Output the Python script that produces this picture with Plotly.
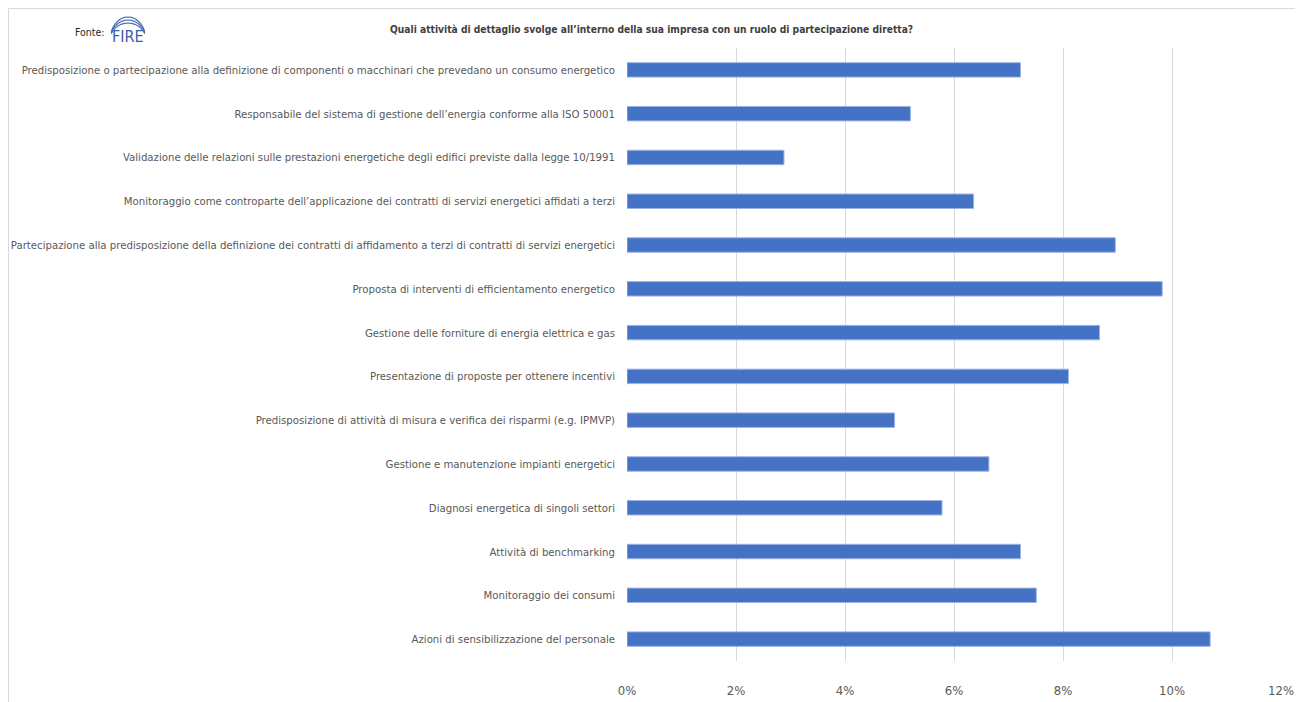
import math
import plotly.graph_objects as go

categories = [
    "Predisposizione o partecipazione alla definizione di componenti o macchinari che prevedano un consumo energetico",
    "Responsabile del sistema di gestione dell’energia conforme alla ISO 50001",
    "Validazione delle relazioni sulle prestazioni energetiche degli edifici previste dalla legge 10/1991",
    "Monitoraggio come controparte dell’applicazione dei contratti di servizi energetici affidati a terzi",
    "Partecipazione alla predisposizione della definizione dei contratti di affidamento a terzi di contratti di servizi energetici",
    "Proposta di interventi di efficientamento energetico",
    "Gestione delle forniture di energia elettrica e gas",
    "Presentazione di proposte per ottenere incentivi",
    "Predisposizione di attività di misura e verifica dei risparmi (e.g. IPMVP)",
    "Gestione e manutenzione impianti energetici",
    "Diagnosi energetica di singoli settori",
    "Attività di benchmarking",
    "Monitoraggio dei consumi",
    "Azioni di sensibilizzazione del personale",
]
values = [0.0722, 0.0520, 0.0288, 0.0636, 0.0896, 0.0982, 0.0867, 0.0810,
          0.0491, 0.0664, 0.0578, 0.0722, 0.0751, 0.1070]
x_ticks = [0, 0.02, 0.04, 0.06, 0.08, 0.10, 0.12]
x_ticklabels = ["0%", "2%", "4%", "6%", "8%", "10%", "12%"]

title_text = "Quali attività di dettaglio svolge all’interno della sua impresa con un ruolo di partecipazione diretta?"

FONT = "DejaVu Sans Condensed, Liberation Sans Narrow, sans-serif"

OFF = 8  # page body margin
W, H = 1303 - OFF, 702 - OFF
# plot area in page pixels: x 627..1281, y 48..661
ML = 627 - OFF
MR = W - (1281 - OFF)
MT = 48 - OFF
MB = H - (661 - OFF)
PW, PH = W - ML - MR, H - MT - MB

fig = go.Figure(go.Bar(
    x=values, y=categories, orientation="h",
    marker=dict(color="#4472C4", line=dict(color="#9db3e3", width=1)),
    width=0.33,
))


def px_x(p):
    return (p - OFF - ML) / PW


def px_y(p):
    return (H - MB - (p - OFF)) / PH


def arc_path(cx, cy, rx, ry):
    pts = []
    for i in range(0, 13):
        a = math.pi * (0.12 + 0.76 * i / 12)
        pts.append((px_x(cx + rx * math.cos(a)), px_y(cy - ry * math.sin(a))))
    return "M " + " L ".join(f"{x:.5f},{y:.5f}" for x, y in pts)


logo_shapes = [
    dict(type="path", xref="paper", yref="paper", path=arc_path(128, 40, 18, 23 - k * 3),
         line=dict(color="#4a6fb5", width=1.2))
    for k in range(3)
]

fig.update_layout(
    width=W, height=H,
    margin=dict(l=ML, r=MR, t=MT, b=MB, autoexpand=False),
    paper_bgcolor="white", plot_bgcolor="white",
    showlegend=False,
    font=dict(family=FONT, color="#595959", size=12),
    xaxis=dict(
        range=[0, 0.12], tickvals=x_ticks, ticktext=x_ticklabels,
        showgrid=True, gridcolor="#d9d9d9", gridwidth=1,
        zeroline=False, showline=False, ticks="",
        ticklabelstandoff=20, automargin=False,
        tickfont=dict(family=FONT, size=13, color="#595959"),
        fixedrange=True,
    ),
    yaxis=dict(
        categoryorder="array", categoryarray=categories[::-1],
        showgrid=False, zeroline=False, showline=False, ticks="",
        ticklabelstandoff=11, automargin=False,
        tickfont=dict(family=FONT, size=11.3, color="#595959"),
        fixedrange=True,
    ),
    shapes=[
        dict(type="rect", xref="paper", yref="paper",
             x0=px_x(8.5), x1=px_x(1298), y0=px_y(712), y1=px_y(8.5),
             line=dict(color="#d9d9d9", width=1), fillcolor="rgba(0,0,0,0)", layer="below"),
    ] + logo_shapes,
    annotations=[
        dict(text="<b>" + title_text + "</b>", xref="paper", yref="paper",
             x=px_x(651), y=px_y(29), xanchor="center", yanchor="middle",
             showarrow=False, font=dict(family=FONT, size=10.2, color="#404040")),
        dict(text="Fonte:", xref="paper", yref="paper",
             x=px_x(107), y=px_y(32), xanchor="right", yanchor="middle",
             showarrow=False, font=dict(family=FONT, size=10.5, color="#262626")),
        dict(text="FIRE", xref="paper", yref="paper",
             x=px_x(128), y=px_y(37), xanchor="center", yanchor="middle",
             showarrow=False, font=dict(family=FONT, size=16, color="#3b5ca8")),
    ],
)

fig.write_html("out.html")
